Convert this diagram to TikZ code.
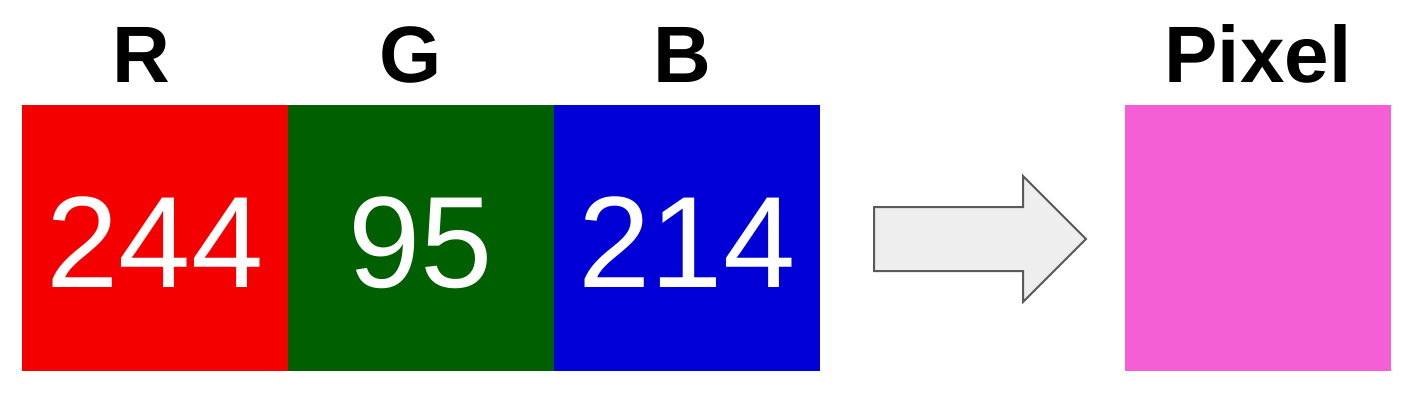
\documentclass[tikz,border=0pt]{standalone}
\usepackage{fontspec}
\setmainfont{Liberation Sans}
\usetikzlibrary{shapes.arrows,positioning}
\definecolor{chanR}{RGB}{244, 0, 0}
\definecolor{chanG}{RGB}{0, 95, 0}
\definecolor{chanB}{RGB}{0, 0, 214}
\definecolor{pixcol}{RGB}{244, 95, 214}
\definecolor{arwfill}{RGB}{238, 238, 238}
\definecolor{arwline}{RGB}{90, 90, 90}

\begin{document}
\begin{tikzpicture}[
    x=0.5pt, y=-0.5pt,
    node distance=0pt,
    cell/.style={rectangle, fill=#1, minimum size=133pt, inner sep=0pt, outer sep=0pt},
    value/.style={anchor=base, text=white, font=\fontsize{65}{70}\selectfont},
    chan/.style={anchor=base, font=\fontsize{40}{44}\selectfont\bfseries},
    bigarrow/.style={single arrow, draw=arwline, fill=arwfill, line width=1pt,
                     minimum height=106pt, minimum width=62pt,
                     single arrow head extend=15.5pt, inner xsep=0pt, inner ysep=15.5pt}
]
\useasboundingbox (0,0) rectangle (1424,408);

% Channel cells
\node[cell=chanR] (r) at (155,238) {};
\node[cell=chanG, right=of r] (g) {};
\node[cell=chanB, right=of g] (b) {};

% Result pixel
\node[cell=pixcol] (px) at (1258,238) {};

% Values
\node[value] (rv) at ([yshift=-24.5pt]r.center) {244};
\node[value] (gv) at ([yshift=-24.5pt]g.center) {95};
\node[value] (bv) at ([yshift=-24.5pt]b.center) {214};

% Labels
\node[chan] (rl) at ([xshift=-7pt, yshift=11.5pt]r.north) {R};
\node[chan] (gl) at ([xshift=-5pt, yshift=11.5pt]g.north) {G};
\node[chan] (bl) at ([xshift=-2.5pt, yshift=11.5pt]b.north) {B};
\node[chan] (pl) at ([yshift=11.5pt]px.north) {Pixel};

% Arrow
\node[bigarrow] (arw) at (964,239) {};
\end{tikzpicture}
\end{document}
